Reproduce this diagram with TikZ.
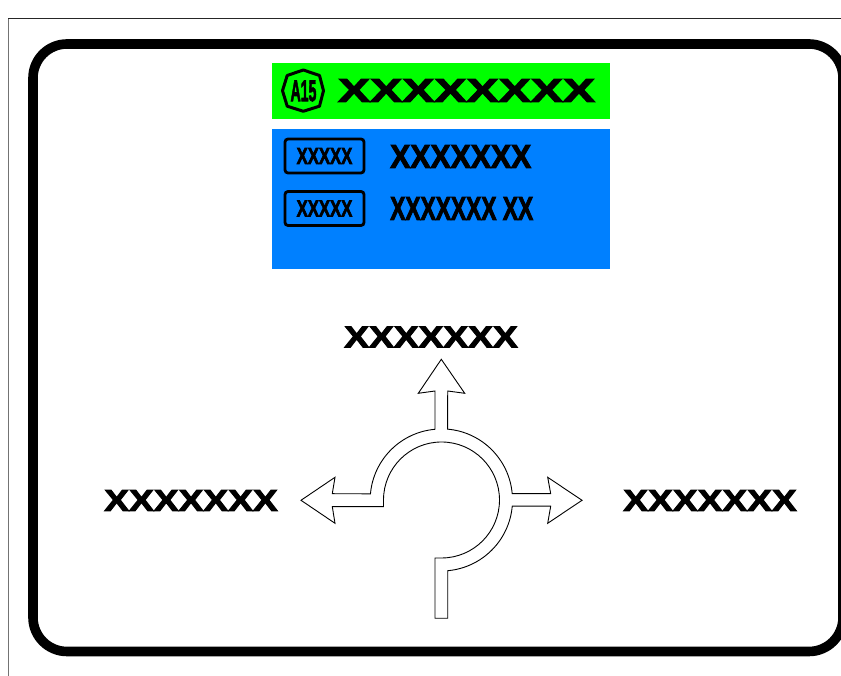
\documentclass[tikz,border=0pt]{standalone}
\usepackage{fontspec}
\setmainfont[BoldFeatures={FakeBold=3}]{Liberation Sans}
\usepackage{graphicx}
\usetikzlibrary{positioning}
\definecolor{signgreen}{HTML}{00FF00}
\definecolor{signblue}{HTML}{0080FF}
% font size, horizontal stretch, text
\newcommand{\signtext}[3]{\scalebox{#2}[1]{\fontsize{#1}{#1}\selectfont\bfseries #3}}

\begin{document}
\begin{tikzpicture}[
    x=1pt, y=1pt,
    panel/.style={draw=none, inner sep=0pt, minimum width=338pt},
    plate/.style={draw=black, line width=2.8pt, rounded corners=3pt, inner sep=0pt, minimum width=79pt, minimum height=34pt},
    label/.style={inner sep=0pt},
    road/.style={draw=black, fill=white, line width=0.9pt, line join=miter}
  ]
    \clip (0,0) rectangle (841,676);
    % Sheet edge
    \draw[line width=0.8pt, black!55] (8,0) -- (8,658);
    \draw[line width=0.8pt, black!85] (8,658) -- (841,658);
    % Sign border
    \draw[line width=9.6pt, rounded corners=34pt] (33,24.5) rectangle (843,632);
    % Panels
    \node[panel, fill=signgreen, minimum height=56pt] (greenpanel) at (441,585) {};
    \node[panel, fill=signblue, minimum height=140pt] (bluepanel) at (441,477) {};
    % Motorway shield
    \draw[line width=3pt, line join=round] (303.3,606) -- (319.5,600.5) -- (323.5,585.3) -- (319.5,569.8)
      -- (303.3,564.7) -- (287.2,569.8) -- (282.5,585.3) -- (287.2,600.5) -- cycle;
    \node[label] (shieldtext) at (303.5,585) {\signtext{30}{0.47}{A15}};
    \node[label] (greentext) at (466.5,585.5) {\signtext{33}{1.46}{XXXXXXXX}};
    % Blue panel rows
    \node[plate] (plateone) at (324.5,520) {\signtext{23.2}{0.72}{XXXXX}};
    \node[plate] (platetwo) at (324.5,467.5) {\signtext{23.2}{0.72}{XXXXX}};
    \node[label, anchor=west] (rowone) at (390,519.5) {\signtext{33}{0.915}{XXXXXXX}};
    \node[label, anchor=west] (rowtwo) at (390,467.5) {\signtext{33}{0.69}{XXXXXXX XX}};
    % Exits
    \node[label] (topexit) at (431,339) {\signtext{30.2}{1.23}{XXXXXXX}};
    \node[label] (leftexit) at (191,175.5) {\signtext{30.2}{1.23}{XXXXXXX}};
    \node[label] (rightexit) at (710,175.5) {\signtext{30.2}{1.23}{XXXXXXX}};
    % Roundabout symbol
    \draw[road] (435,57.7) -- (447.7,57.7) -- (447.7,105.3)
      arc[start angle=-85, end angle=-5, radius=71]
      -- (550.7,169.8) -- (547.7,152.7) -- (582,175.7) -- (547.7,198.7) -- (550.7,182.3) -- (512.2,182.3)
      arc[start angle=5, end angle=85, radius=71]
      -- (447.7,285) -- (464.7,282.7) -- (441.3,316.7) -- (418.3,282.7) -- (435,285) -- (435,246.7)
      arc[start angle=95, end angle=175, radius=71]
      -- (332.3,182.3) -- (335,198.7) -- (301,175.7) -- (335,152.7) -- (332.3,169.3) -- (383.5,169.3)
      -- (383.5,176) arc[start angle=180, end angle=-90, radius=58]
      -- (435,118) -- cycle;
\end{tikzpicture}
\end{document}
